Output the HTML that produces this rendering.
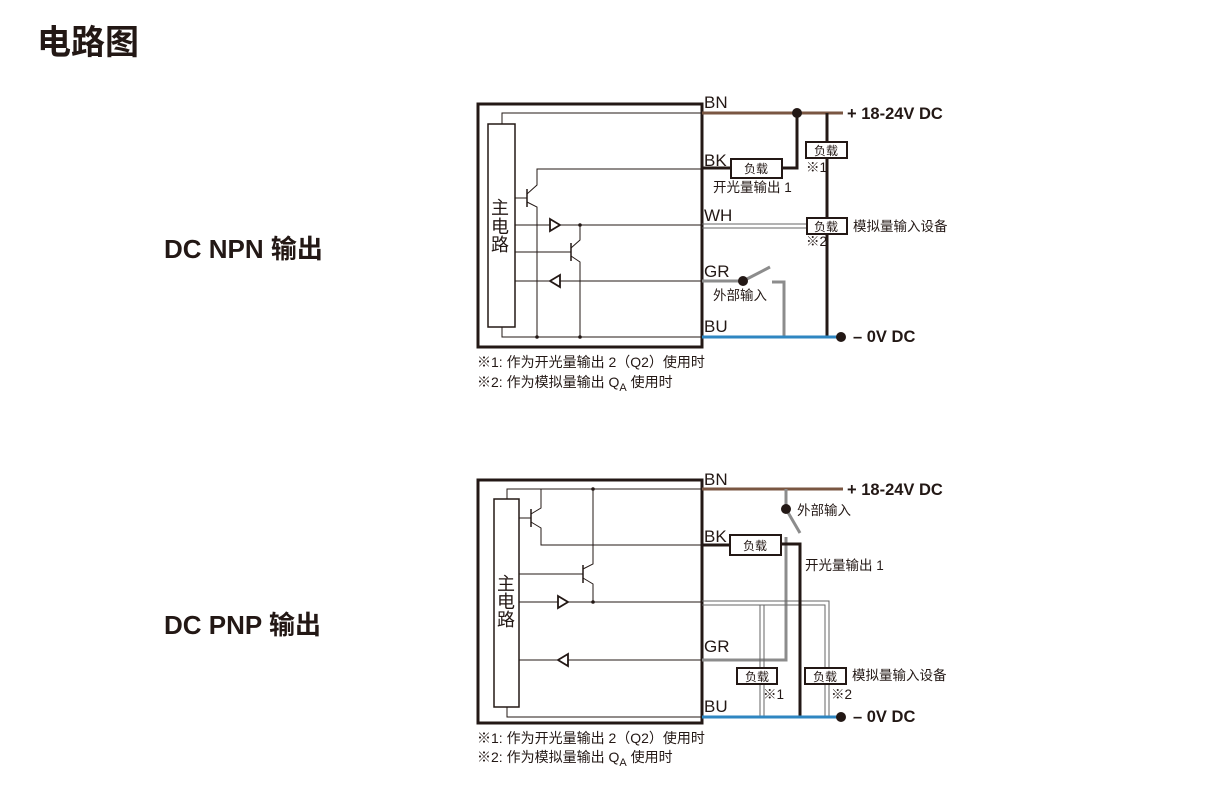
<!DOCTYPE html>
<html><head><meta charset="utf-8"><style>
html,body{margin:0;padding:0;background:#fff;}
svg{display:block;}
text{font-family:"Liberation Sans","Noto Sans CJK SC",sans-serif;fill:#231815;}
.b{font-weight:bold;}
</style></head><body>
<svg width="1206" height="794" viewBox="0 0 1206 794" xmlns="http://www.w3.org/2000/svg">
<text x="37" y="54" font-size="34" class="b" font-family="'Noto Sans CJK SC',sans-serif">电路图</text>
<text x="164" y="258" font-size="26" class="b">DC NPN 输出</text>
<text x="164" y="634" font-size="26" class="b">DC PNP 输出</text>

<!-- ========== NPN ========== -->
<g fill="none" stroke="#231815">
<rect x="478" y="104" width="224" height="243" stroke-width="3"/>
<rect x="488" y="124" width="27" height="203" stroke-width="1.5"/>
<polyline points="502,124 502,113 702,113" stroke-width="1"/>
<polyline points="502,327 502,337 702,337" stroke-width="1"/>
<line x1="515" y1="198" x2="527" y2="198" stroke-width="1"/>
<line x1="527" y1="189" x2="527" y2="207" stroke-width="1.5"/>
<polyline points="527,194 537,185 537,169 702,169" stroke-width="1"/>
<polyline points="527,202 537,207 537,337" stroke-width="1"/>
<line x1="515" y1="252" x2="571" y2="252" stroke-width="1"/>
<line x1="571" y1="243" x2="571" y2="261" stroke-width="1.5"/>
<polyline points="571,248 580,240 580,225" stroke-width="1"/>
<polyline points="571,256 580,262 580,337" stroke-width="1"/>
<line x1="515" y1="225" x2="702" y2="225" stroke-width="1"/>
<line x1="515" y1="281" x2="702" y2="281" stroke-width="1"/>
<polygon points="550,219 560,225 550,231" fill="#fff" stroke-width="1.8"/>
<polygon points="560,275 550,281 560,287" fill="#fff" stroke-width="1.8"/>
<line x1="702" y1="113" x2="843" y2="113" stroke="#7a5642" stroke-width="3"/>
<polyline points="797,113 797,168 782,168" stroke-width="3"/>
<line x1="702" y1="168" x2="731" y2="168" stroke-width="3"/>
<rect x="731" y="159" width="51" height="19" fill="#fff" stroke-width="2"/>
<line x1="827" y1="113" x2="827" y2="337" stroke-width="3"/>
<rect x="806" y="142" width="41" height="16" fill="#fff" stroke-width="2"/>
<line x1="702" y1="224" x2="807" y2="224" stroke="#666" stroke-width="1"/>
<line x1="702" y1="228" x2="807" y2="228" stroke="#666" stroke-width="1"/>
<rect x="807" y="218" width="40" height="16" fill="#fff" stroke-width="2"/>
<line x1="702" y1="281" x2="743" y2="281" stroke="#8c8c8c" stroke-width="3"/>
<line x1="743" y1="281" x2="770" y2="267" stroke="#8c8c8c" stroke-width="3"/>
<polyline points="772,282 784,282 784,337" stroke="#8c8c8c" stroke-width="3"/>
<line x1="702" y1="337" x2="841" y2="337" stroke="#2e86c1" stroke-width="3"/>
</g>
<g fill="#231815">
<circle cx="797" cy="113" r="5"/>
<circle cx="743" cy="281" r="5"/>
<circle cx="841" cy="337" r="5"/>
<circle cx="537" cy="337" r="1.8"/><circle cx="580" cy="337" r="1.8"/><circle cx="580" cy="225" r="1.8"/>
</g>
<text x="491" y="214" font-size="18">主</text>
<text x="491" y="233" font-size="18">电</text>
<text x="491" y="251" font-size="18">路</text>
<g font-size="17">
<text x="704" y="108">BN</text><text x="704" y="166">BK</text><text x="704" y="221">WH</text><text x="704" y="277">GR</text><text x="704" y="332">BU</text>
</g>
<g font-size="12">
<text x="744" y="173">负载</text><text x="814" y="155">负载</text><text x="814" y="231">负载</text>
</g>
<g font-size="13.5">
<text x="713" y="192">开光量输出 1</text>
<text x="713" y="300">外部输入</text>
<text x="806" y="172">※1</text><text x="806" y="246">※2</text>
<text x="853" y="231">模拟量输入设备</text>
</g>
<g font-size="14">
<text x="477" y="367">※1: 作为开光量输出 2（Q2）使用时</text>
<text x="477" y="387">※2:  作为模拟量输出 Q<tspan font-size="11" dy="4">A</tspan><tspan dy="-4"> 使用时</tspan></text>
</g>
<text x="847" y="119" font-size="16.5" class="b">+ 18-24V DC</text>
<text x="853" y="342" font-size="16.5" class="b">– 0V DC</text>

<!-- ========== PNP ========== -->
<g fill="none" stroke="#231815">
<rect x="478" y="480" width="224" height="243" stroke-width="3"/>
<rect x="494" y="499" width="25" height="208" stroke-width="1.5"/>
<polyline points="507,499 507,489 702,489" stroke-width="1"/>
<polyline points="507,707 507,717 702,717" stroke-width="1"/>
<line x1="519" y1="518" x2="531" y2="518" stroke-width="1"/>
<line x1="531" y1="509" x2="531" y2="527" stroke-width="1.5"/>
<polyline points="531,514 541,508 541,489" stroke-width="1"/>
<polyline points="531,522 541,528 541,545 702,545" stroke-width="1"/>
<line x1="519" y1="574" x2="583" y2="574" stroke-width="1"/>
<line x1="583" y1="565" x2="583" y2="583" stroke-width="1.5"/>
<polyline points="583,569 593,564 593,489" stroke-width="1"/>
<polyline points="583,578 593,584 593,602" stroke-width="1"/>
<line x1="519" y1="602" x2="702" y2="602" stroke-width="1"/>
<line x1="519" y1="660" x2="702" y2="660" stroke-width="1"/>
<polygon points="558,596 568,602 558,608" fill="#fff" stroke-width="1.8"/>
<polygon points="568,654 558,660 568,666" fill="#fff" stroke-width="1.8"/>
<line x1="702" y1="489" x2="843" y2="489" stroke="#7a5642" stroke-width="3"/>
<line x1="786" y1="489" x2="786" y2="508" stroke="#8c8c8c" stroke-width="3"/>
<line x1="786" y1="509" x2="800" y2="533" stroke="#8c8c8c" stroke-width="3"/>
<polyline points="702,660 786,660 786,537" stroke="#8c8c8c" stroke-width="3"/>
<polyline points="702,601 829,601 829,716" stroke="#666" stroke-width="1"/>
<polyline points="702,605 825,605 825,716" stroke="#666" stroke-width="1"/>
<polyline points="760,605 760,716" stroke="#666" stroke-width="1"/>
<polyline points="764,605 764,716" stroke="#666" stroke-width="1"/>
<line x1="702" y1="545" x2="730" y2="545" stroke-width="3"/>
<polyline points="781,544 800,544 800,717" stroke-width="3"/>
<rect x="730" y="535" width="51" height="20" fill="#fff" stroke-width="2"/>
<rect x="737" y="668" width="40" height="16" fill="#fff" stroke-width="2"/>
<rect x="805" y="668" width="41" height="16" fill="#fff" stroke-width="2"/>
<line x1="702" y1="717" x2="841" y2="717" stroke="#2e86c1" stroke-width="3"/>
</g>
<g fill="#231815">
<circle cx="786" cy="509" r="5"/>
<circle cx="841" cy="717" r="5"/>
<circle cx="593" cy="489" r="1.8"/><circle cx="593" cy="602" r="1.8"/>
</g>
<text x="497" y="590" font-size="18">主</text>
<text x="497" y="608" font-size="18">电</text>
<text x="497" y="626" font-size="18">路</text>
<g font-size="17">
<text x="704" y="485">BN</text><text x="704" y="542">BK</text><text x="704" y="652">GR</text><text x="704" y="712">BU</text>
</g>
<g font-size="12">
<text x="743" y="550">负载</text><text x="745" y="681">负载</text><text x="813" y="681">负载</text>
</g>
<g font-size="13.5">
<text x="797" y="515">外部输入</text>
<text x="805" y="570">开光量输出 1</text>
<text x="763" y="699">※1</text><text x="831" y="699">※2</text>
<text x="852" y="680">模拟量输入设备</text>
</g>
<g font-size="14">
<text x="477" y="743">※1: 作为开光量输出 2（Q2）使用时</text>
<text x="477" y="762">※2:  作为模拟量输出 Q<tspan font-size="11" dy="4">A</tspan><tspan dy="-4"> 使用时</tspan></text>
</g>
<text x="847" y="495" font-size="16.5" class="b">+ 18-24V DC</text>
<text x="853" y="722" font-size="16.5" class="b">– 0V DC</text>
</svg>
</body></html>
